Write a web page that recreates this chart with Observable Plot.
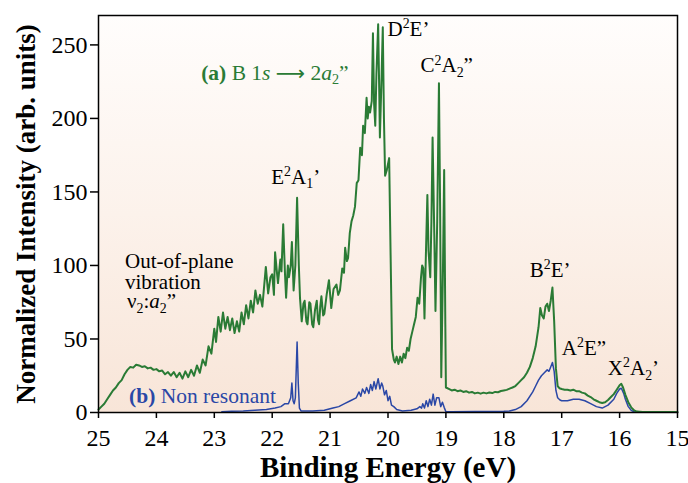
<!DOCTYPE html>
<html><head><meta charset="utf-8">
<script src="https://cdn.jsdelivr.net/npm/d3@7"></script>
<script src="https://cdn.jsdelivr.net/npm/@observablehq/plot@0.6"></script>
<style>body{margin:0;background:#fff}</style>
</head><body><div id="chart"></div>
<script>
// (a) resonant spectrum B 1s -> 2a2'' : [binding energy (eV), intensity]
const resonantA = [
[25.00,2],[24.95,4],[24.90,6],[24.85,9],[24.80,12],[24.75,15],[24.70,17],[24.65,20],[24.60,22],[24.55,26],
[24.50,29],[24.45,31],[24.40,30.5],[24.35,32.5],[24.30,32],[24.25,31],[24.20,31.5],[24.15,30],[24.10,30.5],[24.05,29],
[24.00,29.5],[23.95,28],[23.90,28.5],[23.85,26],[23.80,27.5],[23.75,25],[23.70,27.5],[23.65,24],[23.60,27],[23.55,23],
[23.50,28],[23.45,24],[23.40,29],[23.35,25],[23.30,32],[23.25,27],[23.20,36],[23.15,32],[23.10,45],[23.05,40],
[23.00,57],[22.97,48],[22.93,65],[22.89,55],[22.85,68],[22.81,57],[22.77,65],[22.73,56],[22.69,64],[22.65,54],
[22.61,62],[22.57,55],[22.53,68],[22.49,60],[22.45,73],[22.41,64],[22.37,76],[22.33,68],[22.29,83],[22.25,74],
[22.21,80],[22.17,72],[22.13,90],[22.11,99],[22.07,81],[22.03,92],[22.00,94],[21.97,80],[21.95,109],[21.92,96],
[21.90,88],[21.86,104],[21.84,96],[21.81,128],[21.78,95],[21.76,78],[21.73,100],[21.71,92],[21.68,100],[21.66,116],
[21.63,83],[21.60,100],[21.57,146],[21.54,100],[21.52,78],[21.49,62],[21.46,74],[21.44,76],[21.41,62],[21.39,60],
[21.36,75],[21.34,74],[21.31,60],[21.29,58],[21.26,70],[21.23,76],[21.21,63],[21.19,60],[21.17,72],[21.15,79],
[21.12,66],[21.10,67],[21.06,80],[21.02,90],[20.98,71],[20.94,84],[20.89,87],[20.86,80],[20.83,83],[20.79,98],
[20.76,95],[20.74,112],[20.71,103],[20.69,105],[20.66,122],[20.63,130],[20.60,134],[20.57,140],[20.54,156],[20.51,158],
[20.48,180],[20.45,175],[20.43,195],[20.40,190],[20.37,214],[20.35,200],[20.33,208],[20.31,204],[20.28,212],[20.26,258],
[20.24,210],[20.22,195],[20.20,230],[20.17,264],[20.15,215],[20.14,187],[20.11,230],[20.09,262],[20.07,200],[20.05,161],
[20.02,165],[19.98,173],[19.96,120],[19.93,43],[19.90,36],[19.88,34],[19.85,38],[19.82,33],[19.79,38],[19.76,34],
[19.73,40],[19.70,37],[19.67,44],[19.64,42],[19.61,50],[19.58,55],[19.55,60],[19.52,65],[19.49,78],[19.46,74],
[19.43,92],[19.41,100],[19.39,98],[19.37,64],[19.35,100],[19.32,148],[19.30,110],[19.27,92],[19.25,130],[19.23,187],
[19.20,120],[19.18,69],[19.15,130],[19.12,224],[19.10,140],[19.08,24],[19.05,100],[19.03,165],[19.01,60],[19.00,17],
[18.95,16],[18.90,15],[18.85,15.5],[18.80,14.5],[18.75,15],[18.70,14],[18.65,14.5],[18.60,13.5],[18.55,14],[18.50,13],
[18.45,13.5],[18.40,12.8],[18.35,13.5],[18.30,13],[18.25,13.6],[18.20,13.2],[18.15,14],[18.10,13.8],[18.05,14.6],[18.00,15],
[17.95,15.4],[17.90,16.2],[17.85,17],[17.80,18],[17.75,20],[17.70,22],[17.65,24],[17.60,27],[17.55,31],[17.50,37],
[17.45,45],[17.40,58],[17.37,71],[17.34,66],[17.31,64],[17.28,72],[17.25,74],[17.22,69],[17.19,76],[17.16,85],
[17.13,62],[17.10,30],[17.07,18],[17.04,16.5],[17.00,16],[16.95,15.5],[16.90,15.5],[16.85,15],[16.80,15.5],[16.75,14.5],
[16.70,14.5],[16.65,13.5],[16.60,13],[16.55,11.5],[16.50,10.5],[16.45,9],[16.40,8],[16.35,7],[16.30,6.5],[16.25,7],
[16.20,8.5],[16.15,10.5],[16.10,12.5],[16.05,15.5],[16.00,18.5],[15.97,19.5],[15.94,17],[15.90,12],[15.85,7],[15.80,3.5],
[15.75,1.5],[15.70,0.6],[15.60,0.4],[15.40,0.4],[15.20,0.4],[15.00,0.4]
];
// (b) non-resonant spectrum
const nonResonantB = [
[22.87,0.5],[22.70,0.8],[22.50,1],[22.30,1.5],[22.10,2],[21.95,3],[21.85,4],[21.78,6],[21.72,6],[21.68,10],
[21.66,20],[21.64,8],[21.62,6],[21.60,10],[21.57,48],[21.55,20],[21.53,3],[21.50,1],[21.30,1],[21.10,1.5],
[20.95,3],[20.85,4],[20.75,6],[20.65,8],[20.55,10],[20.50,14],[20.47,11],[20.44,16],[20.40,13],[20.37,17],
[20.33,13],[20.30,19],[20.27,15],[20.24,21],[20.21,16],[20.17,23],[20.14,16],[20.11,20],[20.09,18],[20.06,12],
[20.03,15],[20.00,8],[19.97,11],[19.94,5],[19.90,4],[19.85,2],[19.75,1],[19.60,1.5],[19.50,2.5],[19.45,4],
[19.42,3],[19.40,6],[19.37,3],[19.34,8],[19.31,4],[19.28,9],[19.25,5],[19.22,12.5],[19.19,5],[19.16,10],
[19.12,10],[19.09,4],[19.06,7],[19.03,3.5],[19.00,0.5],[18.90,0.5],[18.50,0.6],[18.00,0.8],[17.90,1],[17.80,2],
[17.70,4],[17.60,8],[17.50,14],[17.45,18],[17.40,22],[17.35,25],[17.30,27],[17.25,29],[17.22,28],[17.19,31],
[17.16,34],[17.13,28],[17.10,15],[17.07,10],[17.03,8.5],[17.00,8],[16.90,8],[16.80,9],[16.70,9],[16.60,8],
[16.50,6],[16.40,4],[16.30,3],[16.20,5],[16.10,9],[16.05,13],[16.00,16],[15.97,16.5],[15.93,13],[15.90,9],
[15.85,4],[15.80,1.5],[15.75,0.5],[15.50,0.3],[15.00,0.3]
];
const xTicks = [25,24,23,22,21,20,19,18,17,16,15];
const yTicks = [0,50,100,150,200,250];

const FONT = "Liberation Serif, Times New Roman, serif";
const GREEN = "#2a7b35";
const BLUE = "#2a47a6";

const tableA = resonantA.map(([e, v]) => ({e, v}));
const tableB = nonResonantB.map(([e, v]) => ({e, v}));

// rich text label (superscripts, subscripts, bold, italic) placed in data coordinates
function rich(xv, yv, segs, {size = 21, fill = "black"} = {}) {
  return (index, scales) => {
    const t = d3.create("svg:text")
      .attr("x", scales.x(xv)).attr("y", scales.y(yv))
      .attr("text-anchor", "start")
      .attr("font-family", FONT).attr("font-size", size).attr("fill", fill);
    let shift = 0;
    for (const [str, st = ""] of segs) {
      const sp = t.append("tspan").text(str);
      let target = 0;
      if (st.includes("^")) target = -0.36 * size;
      if (st.includes("_")) target = 0.22 * size;
      if (target !== shift) { sp.attr("dy", target - shift); shift = target; }
      if (st.includes("^") || st.includes("_")) sp.attr("font-size", size * 0.66);
      if (st.includes("b")) sp.attr("font-weight", "bold");
      if (st.includes("i")) sp.attr("font-style", "italic");
      if (st.includes("d")) sp.attr("font-family", "DejaVu Sans").attr("font-size", size * 0.95);
    }
    return t.node();
  };
}

const background = (index, scales, values, dim) => {
  const g = d3.create("svg:g");
  const grad = g.append("defs").append("linearGradient")
    .attr("id", "bgGrad").attr("x1", 0).attr("y1", 0).attr("x2", 0).attr("y2", 1);
  grad.append("stop").attr("offset", "0%").attr("stop-color", "#fffdfc");
  grad.append("stop").attr("offset", "50%").attr("stop-color", "#fcf2eb");
  grad.append("stop").attr("offset", "100%").attr("stop-color", "#f8e5d8");
  g.append("rect")
    .attr("x", dim.marginLeft).attr("y", dim.marginTop)
    .attr("width", dim.width - dim.marginLeft - dim.marginRight)
    .attr("height", dim.height - dim.marginTop - dim.marginBottom)
    .attr("fill", "url(#bgGrad)");
  return g.node();
};

const chart = Plot.plot({
  width: 688,
  height: 483,
  marginLeft: 98,
  marginRight: 11,
  marginTop: 15,
  marginBottom: 71,
  style: {fontFamily: FONT, background: "white", color: "black", overflow: "visible"},
  x: {domain: [25, 15]},
  y: {domain: [0, 270]},
  marks: [
    background,
    Plot.line(tableB, {x: "e", y: "v", stroke: BLUE, strokeWidth: 1.5}),
    Plot.line(tableA, {x: "e", y: "v", stroke: GREEN, strokeWidth: 2}),
    Plot.frame({stroke: "black", strokeWidth: 1.5}),
    Plot.axisX({ticks: xTicks, tickSize: 6, tickPadding: 10, fontSize: 24, strokeWidth: 1.5, label: null, tickFormat: d => d}),
    Plot.axisY({ticks: yTicks, tickSize: 8, tickPadding: 3, fontSize: 24, strokeWidth: 1.5, label: null, tickFormat: d => d}),
    Plot.text(["Binding Energy (eV)"], {frameAnchor: "bottom", lineAnchor: "middle", dy: 55, fontSize: 29, fontWeight: "bold", text: d => d}),
    Plot.text(["Normalized Intensity (arb. units)"], {frameAnchor: "left", textAnchor: "middle", lineAnchor: "middle", dx: -72, rotate: -90, fontSize: 27, fontWeight: "bold", text: d => d}),
    rich(23.218, 226, [["(a)", "b"], [" B 1"], ["s", "i"], [" "], ["\u27F6", "d"], [" 2"], ["a", "i"], ["2", "_"], ["\u201D"]], {fill: GREEN, size: 21.5}),
    rich(20.0, 256, [["D"], ["2", "^"], ["E\u2019"]]),
    rich(19.43, 231, [["C"], ["2", "^"], ["A"], ["2", "_"], ["\u201D"]]),
    rich(22.007, 155.3, [["E"], ["2", "^"], ["A"], ["1", "_"], ["\u2019"]]),
    rich(24.533, 98.1, [["Out-of-plane"]]),
    rich(24.533, 83.8, [["vibration"]]),
    rich(24.50, 70.5, [["\u03BD"], ["2", "_"], [":"], ["a", "i"], ["2", "_"], ["\u201D"]]),
    rich(17.543, 92, [["B"], ["2", "^"], ["E\u2019"]]),
    rich(16.99, 38.8, [["A"], ["2", "^"], ["E\u201D"]]),
    rich(16.194, 25.2, [["X"], ["2", "^"], ["A"], ["2", "_"], ["\u2019"]]),
    rich(24.464, 6.1, [["(b)", "b"], [" Non resonant"]], {fill: BLUE, size: 21.5})
  ]
});
document.getElementById("chart").appendChild(chart);
</script>
</body></html>
